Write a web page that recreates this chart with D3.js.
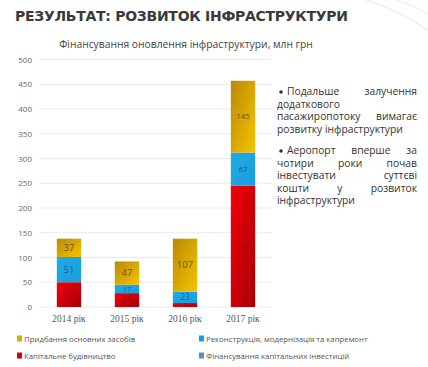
<!DOCTYPE html>
<html><head><meta charset="utf-8">
<script src="https://cdn.jsdelivr.net/npm/d3@7/dist/d3.min.js"></script>
<style>body{margin:0;background:#fff}svg{display:block}</style>
</head><body>
<svg id="c" width="428" height="367"></svg>
<script>
const years = ["2014 рік","2015 рік","2016 рік","2017 рік"];
const capBuild = [50, 28, 8, 245];
const recon = [51, 17, 23, 67];
const purchase = [37, 47, 107, 145];
const yTicks = [0,50,100,150,200,250,300,350,400,450,500];
const legendLabels = ["Придбання основних засобів","Реконструкція, модернізація та капремонт","Капітальне будівництво","Фінансування капітальних інвестицій"];
const para1 = ["Подальше залучення","додаткового","пасажиропотоку вимагає","розвитку інфраструктури"];
const para2 = ["Аеропорт вперше за","чотири роки почав","інвестувати суттєві","кошти у розвиток","інфраструктури"];

const svg = d3.select("#c");
const F = "'Open Sans', sans-serif";

svg.append("path").attr("d","M330,-10 Q400,5 440,40").attr("fill","none").attr("stroke","#eee").attr("stroke-width",1.5);
svg.append("path").attr("d","M360,-10 Q410,0 440,22").attr("fill","none").attr("stroke","#f2f2f2").attr("stroke-width",1.5);

const defs = svg.append("defs");
function grad(id, c1, c2){
  const g = defs.append("linearGradient").attr("id",id).attr("x1","0").attr("y1","0").attr("x2","1").attr("y2","1");
  g.append("stop").attr("offset","0").attr("stop-color",c1);
  g.append("stop").attr("offset","1").attr("stop-color",c2);
}
grad("gy","#b88a08","#f7c300");
grad("gb","#20aae6","#1a9ddc");
grad("gr","#f2000a","#a80008");

svg.append("text").attr("x",15).attr("y",21).attr("font-family","'DejaVu Sans', sans-serif").attr("font-weight","bold")
  .attr("font-size",14).attr("textLength",333).attr("lengthAdjust","spacing").attr("fill","#3a3a3a").text("РЕЗУЛЬТАТ: РОЗВИТОК ІНФРАСТРУКТУРИ");

svg.append("text").attr("x",186).attr("y",48).attr("text-anchor","middle").attr("font-family",F)
  .attr("font-size",10.3).attr("fill","#444").text("Фінансування оновлення інфраструктури, млн грн");

const x = d3.scaleBand().domain(years).range([40,272]).paddingInner(0.58).paddingOuter(0.29);
const y = d3.scaleLinear().domain([0,500]).range([307,59.5]);

const grid = svg.append("g");
yTicks.forEach(t=>{
  grid.append("line").attr("x1",40).attr("x2",272).attr("y1",y(t)).attr("y2",y(t)).attr("stroke","#e6e6e6").attr("stroke-width",0.8);
  grid.append("text").attr("x",32).attr("y",y(t)+3).attr("text-anchor","end").attr("font-family",F)
    .attr("font-size",8).attr("fill","#666").text(t);
});

const series = [
  {vals:capBuild, fill:"url(#gr)", lab:"#b00010"},
  {vals:recon, fill:"url(#gb)", lab:"#1f5f8a"},
  {vals:purchase, fill:"url(#gy)", lab:"#6b5210"}
];
years.forEach((yr,i)=>{
  let base = 0;
  series.forEach(s=>{
    const v = s.vals[i];
    const y0 = y(base), y1 = y(base+v);
    const h = y0-y1;
    const fs = i===3 ? 8 : (h < 6 ? 5 : (h < 10 ? 7.5 : (h < 12 ? 8.5 : 9.5)));
    svg.append("rect").attr("x",x(yr)).attr("width",x.bandwidth()).attr("y",y1).attr("height",h).attr("fill",s.fill);
    svg.append("text").attr("x",x(yr)+x.bandwidth()/2).attr("y",(y0+y1)/2+fs*0.35).attr("text-anchor","middle")
      .attr("font-family",F).attr("font-size",fs).attr("fill",s.lab).text(v);
    base += v;
  });
  svg.append("text").attr("x",x(yr)+x.bandwidth()/2).attr("y",322).attr("text-anchor","middle")
    .attr("font-family","'Liberation Serif', serif").attr("font-size",9.5).attr("fill","#555").text(yr);
});

const legCols = ["#d6ac00","#1a9ddc","#d0000c","#5e8fc0"];
const legPos = [[17,339],[199,339],[17,356],[199,356]];
legendLabels.forEach((l,i)=>{
  svg.append("rect").attr("x",legPos[i][0]).attr("y",legPos[i][1]-3.5).attr("width",5).attr("height",6).attr("fill",legCols[i]);
  svg.append("text").attr("x",legPos[i][0]+7).attr("y",legPos[i][1]+2.5).attr("font-family",F)
    .attr("font-size",7.8).attr("fill","#555").text(l);
});

const PF = 10.3;
function para(lines, y0, bulletY){
  svg.append("circle").attr("cx",281).attr("cy",bulletY).attr("r",1.8).attr("fill","#333");
  lines.forEach((ln,k)=>{
    const left = k===0?287:277, right = 417;
    const last = k===lines.length-1;
    const words = ln.split(" ");
    const yy = y0+k*12.6;
    if(last || words.length===1){
      svg.append("text").attr("x",left).attr("y",yy).attr("font-family",F).attr("font-size",PF).attr("fill","#333").text(ln);
    } else {
      const widths = words.map(w=>{
        const tmp = svg.append("text").attr("font-family",F).attr("font-size",PF).text(w);
        const wd = tmp.node().getComputedTextLength(); tmp.remove(); return wd;});
      const total = d3.sum(widths);
      const gap = Math.max(3,(right-left-total)/(words.length-1));
      let cx = left;
      words.forEach((w,j)=>{
        svg.append("text").attr("x",cx).attr("y",yy).attr("font-family",F).attr("font-size",PF).attr("fill","#333").text(w);
        cx += widths[j]+gap;
      });
    }
  });
}
para(para1, 95, 92);
para(para2, 154, 151);
</script>
</body></html>
